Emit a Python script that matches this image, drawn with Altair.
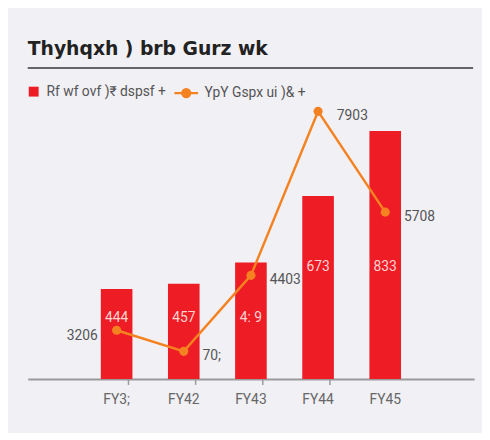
import altair as alt
import pandas as pd

# ---- data (text as rendered in the reference) ----
fy_labels = ["FY3;", "FY42", "FY43", "FY44", "FY45"]
revenue = [222, 235, 287, 451, 611]
revenue_text = ["444", "457", "4: 9", "673", "833"]
yoy = [10.4, 5.9, 22.1, 57.1, 35.6]
yoy_text = ["3206", "70;", "4403", "7903", "5708"]

title_text = "Thyhqxh ) brb Gurz wk"
legend_bar = "Rf wf ovf )\u20b9 dspsf +"
legend_line = "YpY Gspx ui )& +"

RED = "#ee1c25"
ORANGE = "#f58220"
BG = "#f1f0f5"
FONT = "Roboto"

df = pd.DataFrame({
    "fy": fy_labels,
    "rev": revenue,
    "rev_label": revenue_text,
    "yoy": yoy,
    "yoy_label": yoy_text,
    "idx": list(range(len(fy_labels))),
    "s_bar": [legend_bar] * len(fy_labels),
    "s_line": [legend_line] * len(fy_labels),
})

xenc = alt.X(
    "fy:N",
    sort=fy_labels,
    scale=alt.Scale(paddingInner=0.353, paddingOuter=1),
    axis=alt.Axis(
        title=None, labelAngle=0, ticks=False, domainColor="#9a9a9a",
        domainWidth=2, labelColor="#666666", labelFontSize=14, labelFont=FONT,
        labelPadding=14,
    ),
)

rev_scale = alt.Scale(domain=[0, 684])
yoy_scale = alt.Scale(domain=[0, 59.2])

base = alt.Chart(df)

bars = base.mark_bar(size=32).encode(
    x=xenc,
    y=alt.Y("rev:Q", scale=rev_scale, axis=None),
    color=alt.Color(
        "s_bar:N",
        scale=alt.Scale(domain=[legend_bar], range=[RED]),
        legend=alt.Legend(
            title=None, orient="none", legendX=-1, legendY=-17,
            symbolType="square", symbolSize=100, symbolStrokeWidth=0,
            labelFont=FONT, labelFontSize=14, labelColor="#555555",
            labelOffset=6, padding=0,
        ),
    ),
)

bar_labels = base.transform_calculate(
    ly="datum.rev > 400 ? 277 : 150"
).mark_text(font=FONT, fontSize=14, color="#fbd3d3", baseline="middle").encode(
    x=xenc,
    y=alt.Y("ly:Q", scale=rev_scale, axis=None),
    text="rev_label:N",
)

ticks = base.transform_filter("datum.idx > 0").mark_rule(
    color="#9a9a9a", strokeWidth=1.5
).encode(
    x=xenc,
    xOffset=alt.value(-34),
    y=alt.value(281),
    y2=alt.value(287),
)

underline = base.transform_filter("datum.idx == 0").mark_rule(
    color="#666666", strokeWidth=2
).encode(
    x=alt.value(0),
    x2=alt.value(451),
    y=alt.value(-34),
)

legend_path = "M-1,0L1,0M0.33,0A0.33,0.33 0 1,1 -0.33,0A0.33,0.33 0 1,1 0.33,0Z"

line = base.mark_line(strokeWidth=2.5).encode(
    x=xenc,
    y=alt.Y("yoy:Q", scale=yoy_scale, axis=None),
    stroke=alt.Stroke(
        "s_line:N",
        scale=alt.Scale(domain=[legend_line], range=[ORANGE]),
        legend=alt.Legend(
            title=None, orient="none", legendX=147, legendY=-22,
            symbolType=legend_path, symbolSize=576, symbolStrokeWidth=2.5,
            symbolFillColor=ORANGE,
            labelFont=FONT, labelFontSize=14, labelColor="#555555",
            labelOffset=5, padding=0,
        ),
    ),
)

points = base.mark_circle(size=85, opacity=1, color=ORANGE).encode(
    x=xenc,
    y=alt.Y("yoy:Q", scale=yoy_scale, axis=None),
)

line_labels_right = base.transform_filter("datum.idx > 0").mark_text(
    font=FONT, fontSize=14, color="#555555", align="left", baseline="middle",
    dx=19, dy=5,
).encode(
    x=xenc,
    y=alt.Y("yoy:Q", scale=yoy_scale, axis=None),
    text="yoy_label:N",
)

line_labels_left = base.transform_filter("datum.idx == 0").mark_text(
    font=FONT, fontSize=14, color="#555555", align="right", baseline="middle",
    dx=-19, dy=6,
).encode(
    x=xenc,
    y=alt.Y("yoy:Q", scale=yoy_scale, axis=None),
    text="yoy_label:N",
)

chart = alt.layer(
    bars, bar_labels, ticks, underline, line, points,
    line_labels_right, line_labels_left,
).resolve_scale(
    y="independent", color="independent", stroke="independent"
).properties(
    width=452,
    height=281,
    title=alt.Title(
        title_text, anchor="start", frame="group", font="DejaVu Sans",
        fontSize=19, fontWeight="bold", color="#222222", offset=8,
        orient="top",
    ),
    autosize=alt.AutoSizeParams(type="none"),
    padding={"left": 20, "top": 92, "right": 8, "bottom": 52},
    background=BG,
).configure_view(stroke=None)

chart.save("out.html", embed_options={"renderer": "svg", "actions": False})
